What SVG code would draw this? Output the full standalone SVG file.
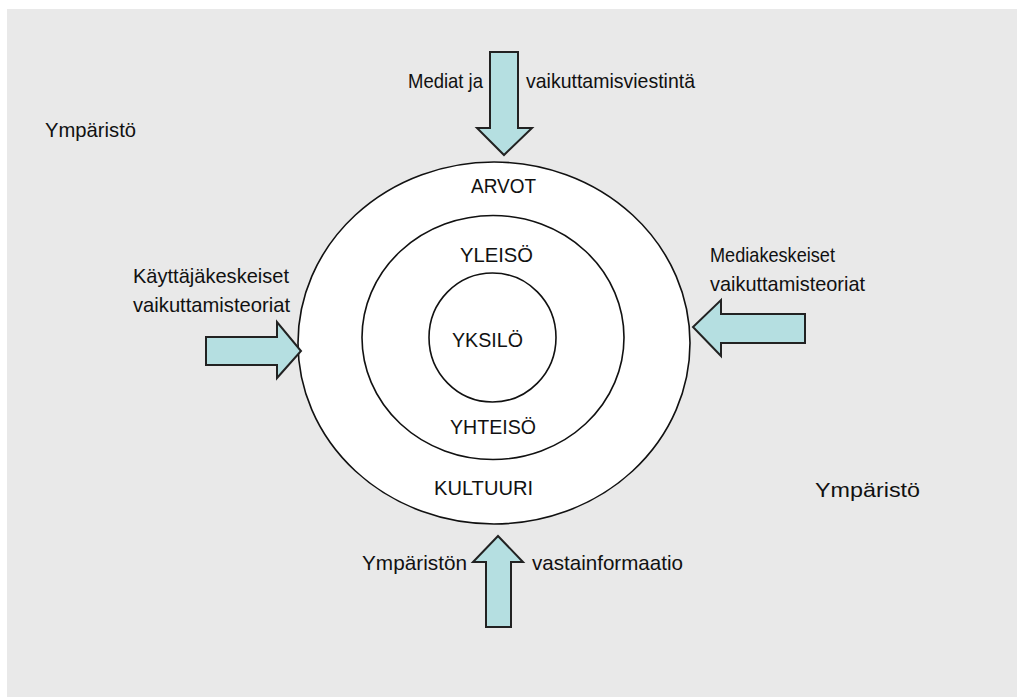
<svg xmlns="http://www.w3.org/2000/svg" width="1017" height="697" viewBox="0 0 1017 697">
<style>
.t{font-family:"Liberation Sans",Arial,sans-serif;font-size:21px;fill:#111}
.c{text-anchor:middle}
.ring{fill:#fff;stroke:#111;stroke-width:1.6}
.arr{fill:#b5dfe1;stroke:#222;stroke-width:2;stroke-linejoin:miter}
</style>
<rect x="0" y="0" width="1017" height="697" fill="#fff"/>
<rect x="7" y="9" width="1010" height="688" fill="#e9e9e9"/>
<g id="env">
<text class="t" x="45" y="137" textLength="91" lengthAdjust="spacingAndGlyphs">Ympäristö</text>
<text class="t" x="815" y="497" textLength="105" lengthAdjust="spacingAndGlyphs">Ympäristö</text>
</g>
<g id="outer"><ellipse class="ring" cx="494" cy="343" rx="196" ry="181"/><text class="t" x="471" y="193" textLength="65" lengthAdjust="spacingAndGlyphs">ARVOT</text><text class="t" x="434" y="495" textLength="99" lengthAdjust="spacingAndGlyphs">KULTUURI</text></g>
<g id="middle"><ellipse class="ring" cx="493" cy="337.5" rx="131" ry="122"/><text class="t" x="460" y="262" textLength="73" lengthAdjust="spacingAndGlyphs">YLEISÖ</text><text class="t" x="450" y="434" textLength="86" lengthAdjust="spacingAndGlyphs">YHTEISÖ</text></g>
<g id="inner"><ellipse class="ring" cx="492.5" cy="337.5" rx="63.5" ry="64.5"/><text class="t" x="452" y="347" textLength="71" lengthAdjust="spacingAndGlyphs">YKSILÖ</text></g>
<g id="connectors">
<g id="top-arrow"><path class="arr" d="M490,52 H518 V128 H532 L504,155 L477,128 H490 Z"/>
<text class="t" x="408" y="88" textLength="75" lengthAdjust="spacingAndGlyphs">Mediat ja</text><text class="t" x="526" y="88" textLength="169" lengthAdjust="spacingAndGlyphs">vaikuttamisviestintä</text></g>
<g id="left-arrow"><path class="arr" d="M206,337 H277 V322 L301,351 L277,378 V365 H206 Z"/>
<text class="t" x="133" y="283" textLength="156" lengthAdjust="spacingAndGlyphs">Käyttäjäkeskeiset</text><text class="t" x="133" y="312" textLength="157" lengthAdjust="spacingAndGlyphs">vaikuttamisteoriat</text></g>
<g id="right-arrow"><path class="arr" d="M805,314 H721 V300 L693,327 L721,356 V343 H805 Z"/>
<text class="t" x="710" y="262" textLength="125" lengthAdjust="spacingAndGlyphs">Mediakeskeiset</text><text class="t" x="710" y="291" textLength="155" lengthAdjust="spacingAndGlyphs">vaikuttamisteoriat</text></g>
<g id="bottom-arrow"><path class="arr" d="M486,627 V562 H473 L498,536 L523,562 H511 V627 Z"/>
<text class="t" x="362" y="570" textLength="105" lengthAdjust="spacingAndGlyphs">Ympäristön</text><text class="t" x="532" y="570" textLength="151" lengthAdjust="spacingAndGlyphs">vastainformaatio</text></g>
</g>
</svg>
